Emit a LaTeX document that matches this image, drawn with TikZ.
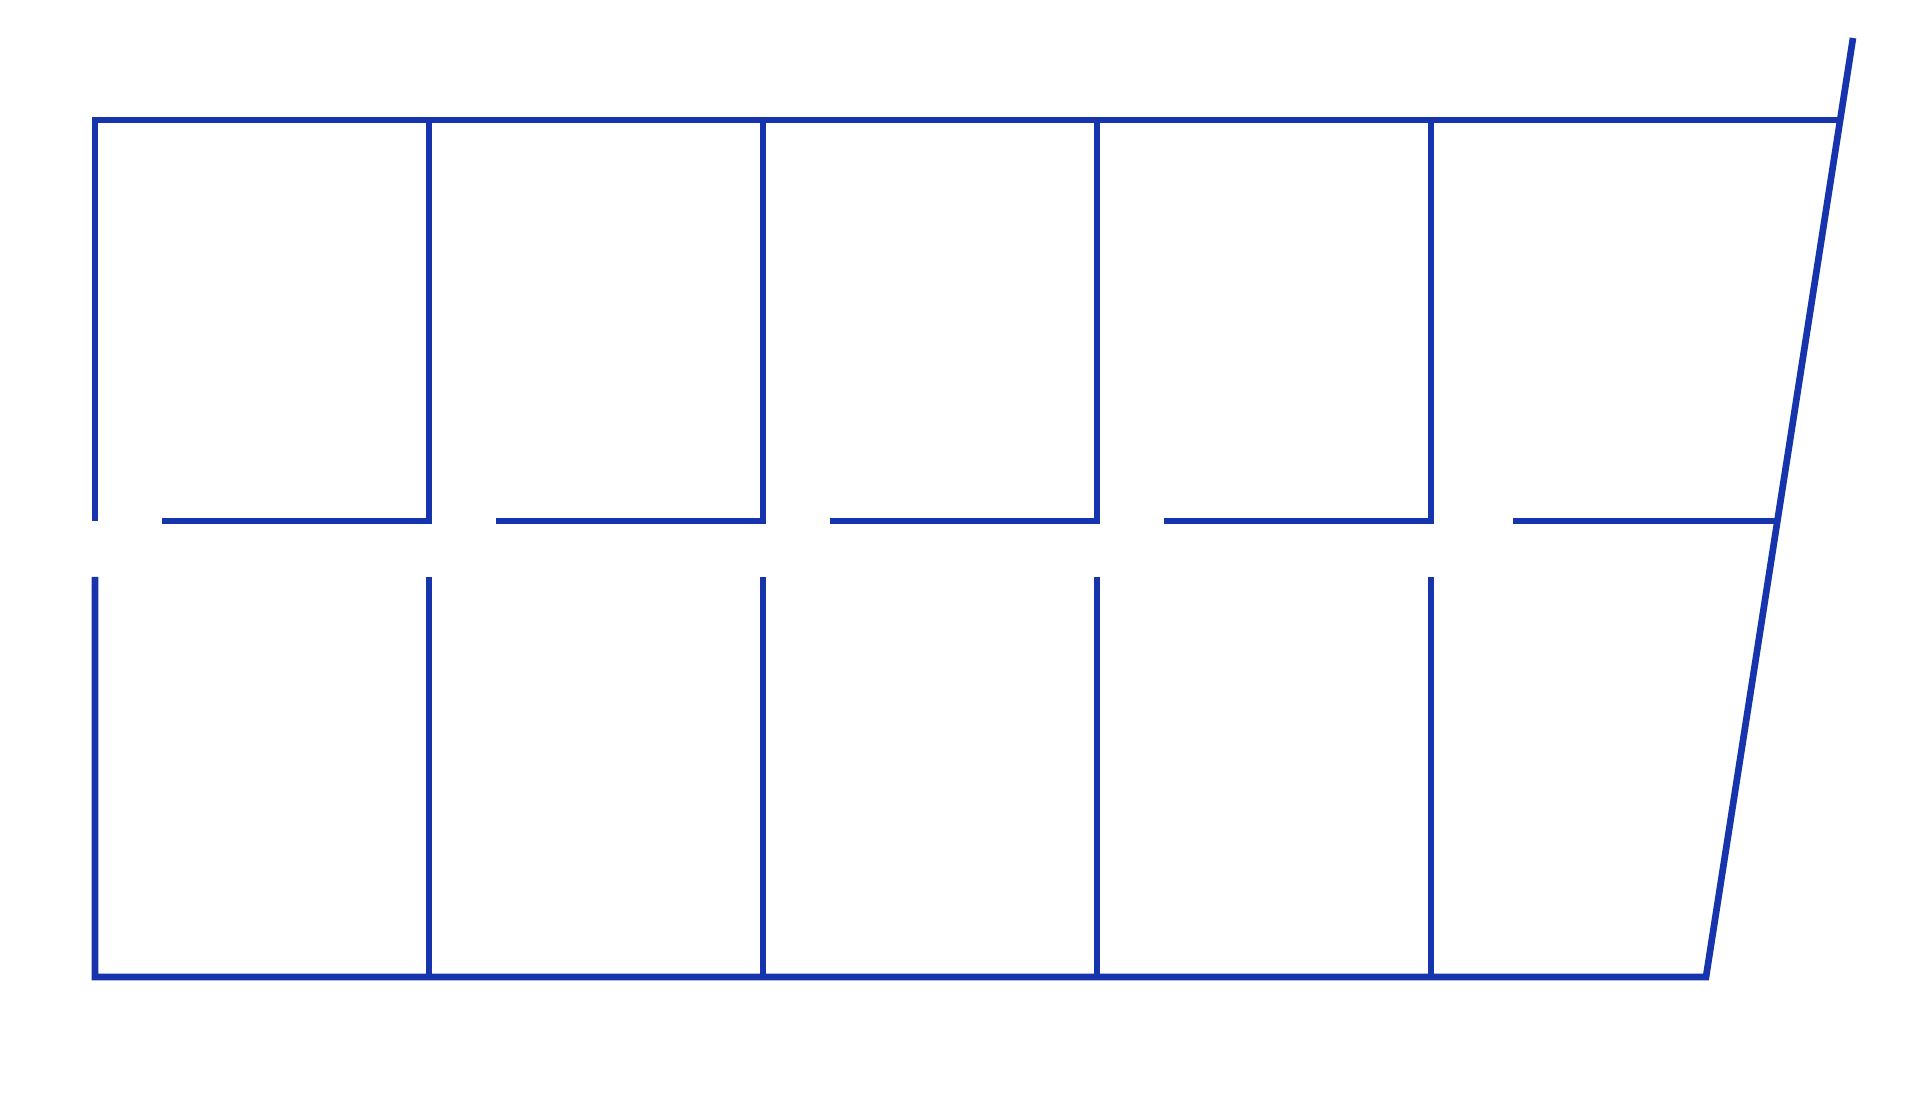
\documentclass[tikz,border=0pt]{standalone}
\usepackage{tikz}
\definecolor{wallblue}{RGB}{22,52,172}

\begin{document}
\begin{tikzpicture}[x=0.01cm, y=-0.01cm, line width=1.9pt, draw=wallblue]
            \useasboundingbox (0, 0) rectangle (1920, 1098);
            % outer walls
            \draw (95, 521) -- (95, 120) -- (1840, 120);
            \draw (95, 577) -- (95, 977) -- (1706, 977) -- (1853, 38);
            \foreach \k in {1, 2, 3, 4}
            {
                \draw (95 + 334*\k, 120) -- (95 + 334*\k, 521) -- (162 + 334*\k - 334, 521);
                \draw (95 + 334*\k, 577) -- (95 + 334*\k, 977);
            }
            \draw (1513, 521) -- (1777, 521);
        \end{tikzpicture}
\end{document}
